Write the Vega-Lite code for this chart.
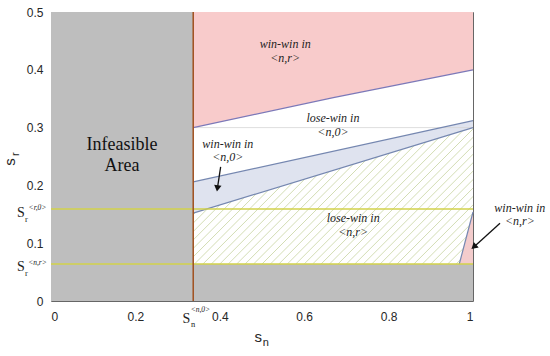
{
  "$schema": "https://vega.github.io/schema/vega-lite/v6.json",
  "width": 422,
  "height": 289,
  "autosize": "none",
  "padding": {"left": 51, "top": 12, "right": 77, "bottom": 55},
  "background": "white",
  "config": {
    "view": {"stroke": "#666666", "strokeWidth": 1},
    "axis": {"domain": false, "ticks": false, "grid": false, "labelFont": "Liberation Sans", "labelFontSize": 12, "labelColor": "#262626", "titleFontSize": 0},
    "axisX": {"labelPadding": 10},
    "axisY": {"labelPadding": 8}
  },
  "encoding": {
    "x": {"field": "sn", "type": "quantitative", "scale": {"domain": [0, 1], "nice": false},
          "axis": {"values": [0, 0.2, 0.4, 0.6, 0.8, 1], "format": "~g", "title": null}},
    "y": {"field": "sr", "type": "quantitative", "scale": {"domain": [0, 0.5], "nice": false},
          "axis": {"values": [0, 0.1, 0.2, 0.3, 0.4, 0.5], "format": "~g", "title": null}}
  },
  "datasets": {
    "hatch": [
      {"sn": 0.00, "sn2": 0.337, "sr": 0.064, "sr2": 0.31}, {"sn": 0.02, "sn2": 0.357, "sr": 0.064, "sr2": 0.31},
      {"sn": 0.04, "sn2": 0.377, "sr": 0.064, "sr2": 0.31}, {"sn": 0.06, "sn2": 0.397, "sr": 0.064, "sr2": 0.31},
      {"sn": 0.08, "sn2": 0.417, "sr": 0.064, "sr2": 0.31}, {"sn": 0.10, "sn2": 0.437, "sr": 0.064, "sr2": 0.31},
      {"sn": 0.12, "sn2": 0.457, "sr": 0.064, "sr2": 0.31}, {"sn": 0.14, "sn2": 0.477, "sr": 0.064, "sr2": 0.31},
      {"sn": 0.16, "sn2": 0.497, "sr": 0.064, "sr2": 0.31}, {"sn": 0.18, "sn2": 0.517, "sr": 0.064, "sr2": 0.31},
      {"sn": 0.20, "sn2": 0.537, "sr": 0.064, "sr2": 0.31}, {"sn": 0.22, "sn2": 0.557, "sr": 0.064, "sr2": 0.31},
      {"sn": 0.24, "sn2": 0.577, "sr": 0.064, "sr2": 0.31}, {"sn": 0.26, "sn2": 0.597, "sr": 0.064, "sr2": 0.31},
      {"sn": 0.28, "sn2": 0.617, "sr": 0.064, "sr2": 0.31}, {"sn": 0.30, "sn2": 0.637, "sr": 0.064, "sr2": 0.31},
      {"sn": 0.32, "sn2": 0.657, "sr": 0.064, "sr2": 0.31}, {"sn": 0.34, "sn2": 0.677, "sr": 0.064, "sr2": 0.31},
      {"sn": 0.36, "sn2": 0.697, "sr": 0.064, "sr2": 0.31}, {"sn": 0.38, "sn2": 0.717, "sr": 0.064, "sr2": 0.31},
      {"sn": 0.40, "sn2": 0.737, "sr": 0.064, "sr2": 0.31}, {"sn": 0.42, "sn2": 0.757, "sr": 0.064, "sr2": 0.31},
      {"sn": 0.44, "sn2": 0.777, "sr": 0.064, "sr2": 0.31}, {"sn": 0.46, "sn2": 0.797, "sr": 0.064, "sr2": 0.31},
      {"sn": 0.48, "sn2": 0.817, "sr": 0.064, "sr2": 0.31}, {"sn": 0.50, "sn2": 0.837, "sr": 0.064, "sr2": 0.31},
      {"sn": 0.52, "sn2": 0.857, "sr": 0.064, "sr2": 0.31}, {"sn": 0.54, "sn2": 0.877, "sr": 0.064, "sr2": 0.31},
      {"sn": 0.56, "sn2": 0.897, "sr": 0.064, "sr2": 0.31}, {"sn": 0.58, "sn2": 0.917, "sr": 0.064, "sr2": 0.31},
      {"sn": 0.60, "sn2": 0.937, "sr": 0.064, "sr2": 0.31}, {"sn": 0.62, "sn2": 0.957, "sr": 0.064, "sr2": 0.31},
      {"sn": 0.64, "sn2": 0.977, "sr": 0.064, "sr2": 0.31}, {"sn": 0.66, "sn2": 0.997, "sr": 0.064, "sr2": 0.31},
      {"sn": 0.68, "sn2": 1.017, "sr": 0.064, "sr2": 0.31}, {"sn": 0.70, "sn2": 1.037, "sr": 0.064, "sr2": 0.31},
      {"sn": 0.72, "sn2": 1.057, "sr": 0.064, "sr2": 0.31}, {"sn": 0.74, "sn2": 1.077, "sr": 0.064, "sr2": 0.31},
      {"sn": 0.76, "sn2": 1.097, "sr": 0.064, "sr2": 0.31}, {"sn": 0.78, "sn2": 1.117, "sr": 0.064, "sr2": 0.31},
      {"sn": 0.80, "sn2": 1.137, "sr": 0.064, "sr2": 0.31}, {"sn": 0.82, "sn2": 1.157, "sr": 0.064, "sr2": 0.31},
      {"sn": 0.84, "sn2": 1.177, "sr": 0.064, "sr2": 0.31}, {"sn": 0.86, "sn2": 1.197, "sr": 0.064, "sr2": 0.31},
      {"sn": 0.88, "sn2": 1.217, "sr": 0.064, "sr2": 0.31}, {"sn": 0.90, "sn2": 1.237, "sr": 0.064, "sr2": 0.31},
      {"sn": 0.92, "sn2": 1.257, "sr": 0.064, "sr2": 0.31}, {"sn": 0.94, "sn2": 1.277, "sr": 0.064, "sr2": 0.31},
      {"sn": 0.96, "sn2": 1.297, "sr": 0.064, "sr2": 0.31}, {"sn": 0.98, "sn2": 1.317, "sr": 0.064, "sr2": 0.31}
    ],
    "band": [
      {"sn": 0.337, "sr": 0.152, "sr2": 0.206},
      {"sn": 1.0, "sr": 0.300, "sr2": 0.312}
    ],
    "middle": [
      {"sn": 0.337, "sr": 0.206},
      {"sn": 1.0, "sr": 0.312}
    ],
    "upper": [
      {"sn": 0.337, "sr": 0.300},
      {"sn": 0.669, "sr": 0.352},
      {"sn": 1.0, "sr": 0.400}
    ],
    "corner": [
      {"sn": 0.9675, "sr": 0.064},
      {"sn": 1.0, "sr": 0.154}
    ],
    "gray": [
      {"sn": 0, "sn2": 0.337, "sr": 0, "sr2": 0.5},
      {"sn": 0.337, "sn2": 1, "sr": 0, "sr2": 0.064}
    ],
    "regionLabels": [
      {"sn": 0.555, "sr": 0.445, "t": "win-win in"},
      {"sn": 0.555, "sr": 0.420, "t": "<n,r>"},
      {"sn": 0.668, "sr": 0.317, "t": "lose-win in"},
      {"sn": 0.668, "sr": 0.292, "t": "<n,0>"},
      {"sn": 0.419, "sr": 0.272, "t": "win-win in"},
      {"sn": 0.419, "sr": 0.249, "t": "<n,0>"},
      {"sn": 0.716, "sr": 0.144, "t": "lose-win in"},
      {"sn": 0.716, "sr": 0.119, "t": "<n,r>"},
      {"sn": 1.111, "sr": 0.161, "t": "win-win in"},
      {"sn": 1.111, "sr": 0.138, "t": "<n,r>"}
    ]
  },
  "layer": [
    {
      "data": {"name": "hatch"},
      "mark": {"type": "rule", "clip": true, "color": "#d3ddb4", "strokeWidth": 1},
      "encoding": {"x2": {"field": "sn2"}, "y2": {"field": "sr2"}}
    },
    {
      "data": {"name": "band"},
      "mark": {"type": "area", "color": "white"},
      "encoding": {"y2": {"datum": 0.5}}
    },
    {
      "data": {"name": "band"},
      "mark": {"type": "area", "color": "#dfe3ef"},
      "encoding": {"y2": {"field": "sr2"}}
    },
    {
      "data": {"name": "upper"},
      "mark": {"type": "area", "color": "#f8cbcb"},
      "encoding": {"y2": {"datum": 0.5}}
    },
    {
      "data": {"name": "corner"},
      "mark": {"type": "area", "color": "#f3cccc"},
      "encoding": {"y2": {"datum": 0.064}}
    },
    {
      "data": {"name": "gray"},
      "mark": {"type": "rect", "color": "#bebebe"},
      "encoding": {"x2": {"field": "sn2"}, "y2": {"field": "sr2"}}
    },
    {
      "data": {"values": [{"sn": 0.337, "sn2": 1, "sr": 0.3}]},
      "mark": {"type": "rule", "color": "#d4d4d4", "strokeWidth": 0.8},
      "encoding": {"x2": {"field": "sn2"}}
    },
    {
      "data": {"name": "upper"},
      "mark": {"type": "line", "color": "#7c78b8", "strokeWidth": 1.2},
      "encoding": {}
    },
    {
      "data": {"name": "middle"},
      "mark": {"type": "line", "color": "#7587b0", "strokeWidth": 1.2},
      "encoding": {}
    },
    {
      "data": {"name": "band"},
      "mark": {"type": "line", "color": "#7587b0", "strokeWidth": 1.2},
      "encoding": {}
    },
    {
      "data": {"name": "corner"},
      "mark": {"type": "line", "color": "#7587b0", "strokeWidth": 1.2},
      "encoding": {}
    },
    {
      "data": {"values": [{"sn": 0, "sn2": 1, "sr": 0.159}, {"sn": 0, "sn2": 1, "sr": 0.064}]},
      "mark": {"type": "rule", "color": "#d2d24a", "strokeWidth": 1.5},
      "encoding": {"x2": {"field": "sn2"}}
    },
    {
      "data": {"values": [{"sn": 0.337, "sr": 0, "sr2": 0.5}]},
      "mark": {"type": "rule", "color": "#a0501e", "strokeWidth": 1.5},
      "encoding": {"y2": {"field": "sr2"}}
    },
    {
      "data": {"name": "regionLabels"},
      "mark": {"type": "text", "font": "Liberation Serif", "fontStyle": "italic", "fontSize": 12, "color": "#222222", "align": "center", "baseline": "middle"},
      "encoding": {"text": {"field": "t"}}
    },
    {
      "data": {"values": [{"sn": 0.168, "sr": 0.270, "t": "Infeasible"}, {"sn": 0.168, "sr": 0.2336, "t": "Area"}]},
      "mark": {"type": "text", "font": "Liberation Serif", "fontSize": 18, "color": "#111111", "align": "center", "baseline": "middle"},
      "encoding": {"text": {"field": "t"}}
    },
    {
      "data": {"values": [{"sn": -0.0716, "sr": 0.153, "t": "S"}, {"sn": -0.0716, "sr": 0.059, "t": "S"}, {"sn": 0.321, "sr": -0.031, "t": "S"}]},
      "mark": {"type": "text", "font": "Liberation Serif", "fontSize": 14, "color": "#222222", "align": "center", "baseline": "middle"},
      "encoding": {"text": {"field": "t"}}
    },
    {
      "data": {"values": [{"sn": -0.058, "sr": 0.1427, "t": "r"}, {"sn": -0.058, "sr": 0.049, "t": "r"}, {"sn": 0.337, "sr": -0.040, "t": "n"}]},
      "mark": {"type": "text", "font": "Liberation Serif", "fontSize": 8.5, "color": "#222222", "align": "center", "baseline": "middle"},
      "encoding": {"text": {"field": "t"}}
    },
    {
      "data": {"values": [{"sn": -0.032, "sr": 0.161, "t": "<r,0>"}, {"sn": -0.032, "sr": 0.066, "t": "<n,r>"}, {"sn": 0.354, "sr": -0.0156, "t": "<n,0>"}]},
      "mark": {"type": "text", "font": "Liberation Serif", "fontStyle": "italic", "fontSize": 7.5, "color": "#222222", "align": "center", "baseline": "middle"},
      "encoding": {"text": {"field": "t"}}
    },
    {
      "data": {"values": [{"sn": 0.491, "sr": -0.0623, "t": "s"}]},
      "mark": {"type": "text", "font": "Liberation Sans", "fontSize": 15, "color": "#262626", "align": "center", "baseline": "middle"},
      "encoding": {"text": {"field": "t"}}
    },
    {
      "data": {"values": [{"sn": 0.509, "sr": -0.0727, "t": "n"}]},
      "mark": {"type": "text", "font": "Liberation Sans", "fontSize": 11, "color": "#262626", "align": "center", "baseline": "middle"},
      "encoding": {"text": {"field": "t"}}
    },
    {
      "data": {"values": [{"sn": -0.097, "sr": 0.2405, "t": "s"}]},
      "mark": {"type": "text", "font": "Liberation Sans", "fontSize": 15, "color": "#262626", "align": "center", "baseline": "middle", "angle": 270},
      "encoding": {"text": {"field": "t"}}
    },
    {
      "data": {"values": [{"sn": -0.083, "sr": 0.254, "t": "r"}]},
      "mark": {"type": "text", "font": "Liberation Sans", "fontSize": 11, "color": "#262626", "align": "center", "baseline": "middle", "angle": 270},
      "encoding": {"text": {"field": "t"}}
    },
    {
      "data": {"values": [{"sn": 0.402, "sr": 0.232, "sn2": 0.3943, "sr2": 0.1948}, {"sn": 1.064, "sr": 0.1344, "sn2": 1.002, "sr2": 0.0936}]},
      "mark": {"type": "rule", "color": "#111111", "strokeWidth": 1.3},
      "encoding": {"x2": {"field": "sn2"}, "y2": {"field": "sr2"}}
    },
    {
      "data": {"values": [{"sn": 0.3943, "sr": 0.1948}]},
      "mark": {"type": "point", "shape": "triangle-down", "filled": true, "color": "#111111", "size": 55, "angle": 8, "opacity": 1},
      "encoding": {}
    },
    {
      "data": {"values": [{"sn": 1.002, "sr": 0.0936}]},
      "mark": {"type": "point", "shape": "triangle-down", "filled": true, "color": "#111111", "size": 55, "angle": 48, "opacity": 1},
      "encoding": {}
    }
  ]
}
